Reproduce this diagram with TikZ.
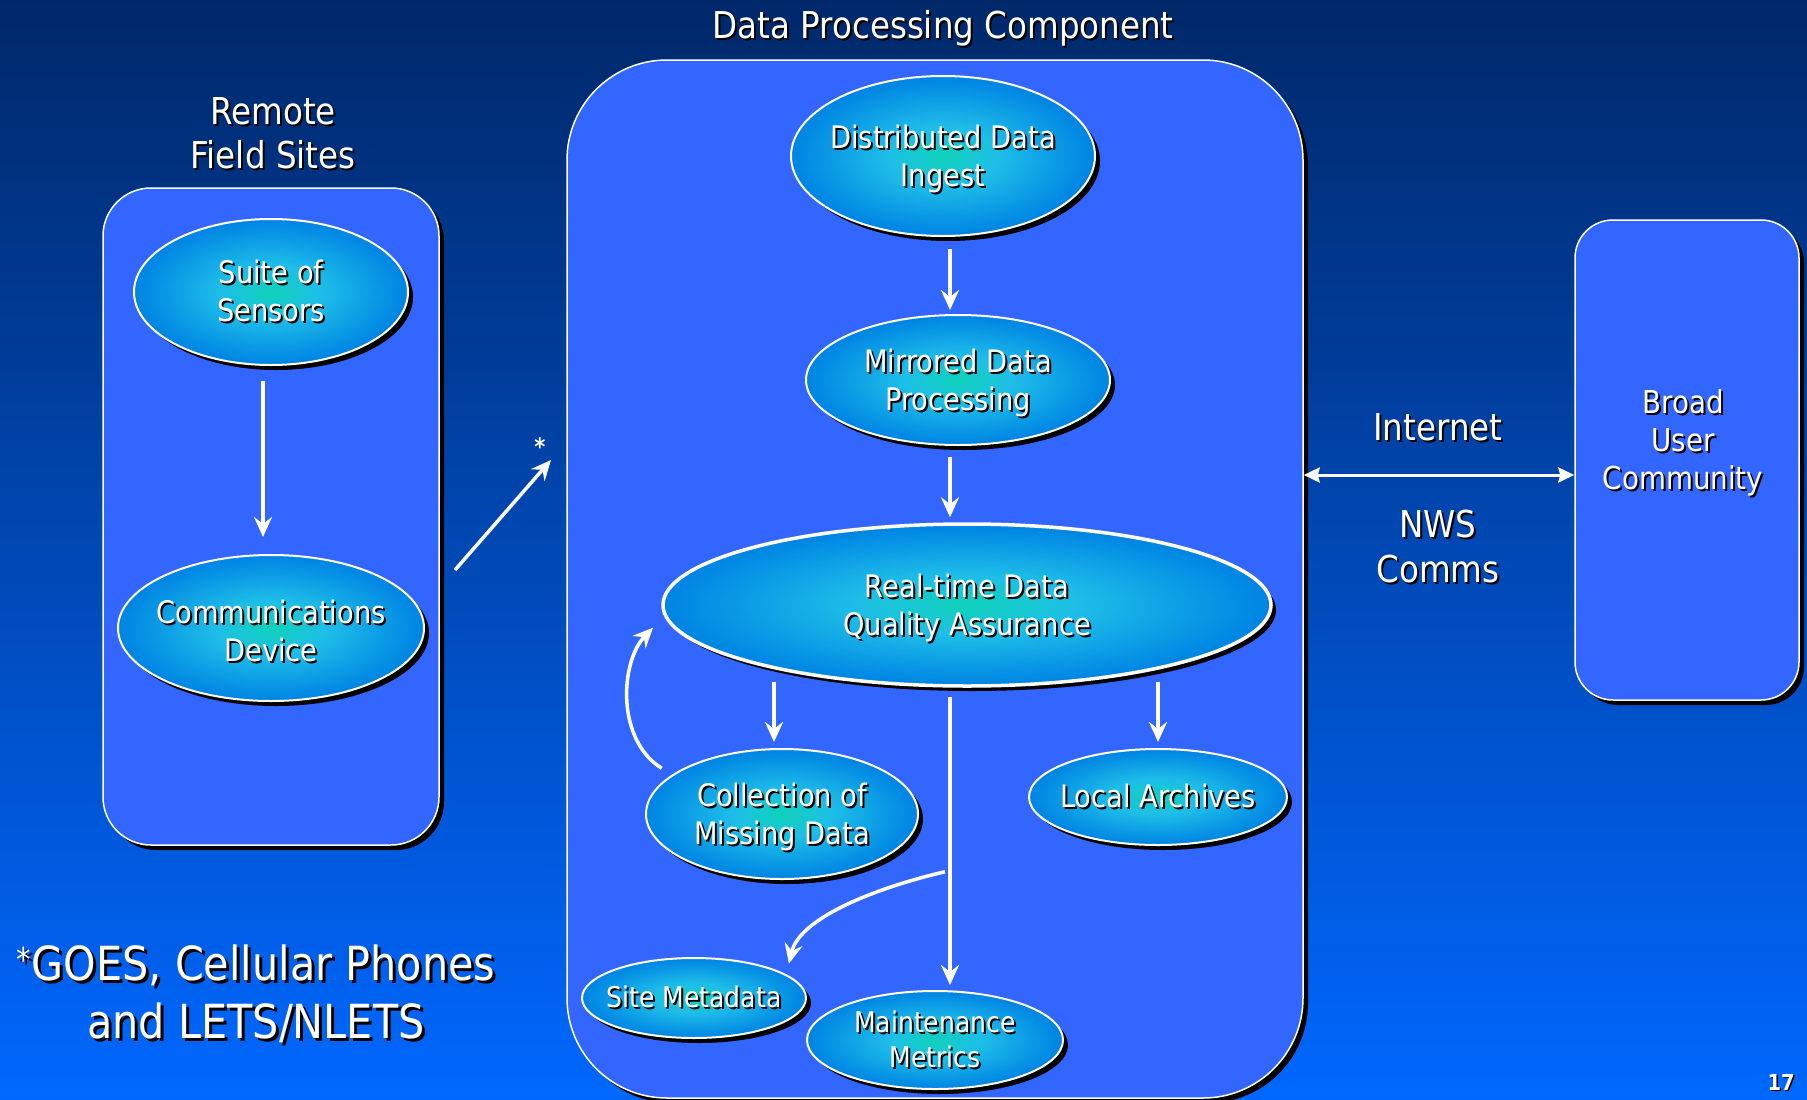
\documentclass[tikz,border=0pt]{standalone}
\usepackage{fontspec}
\setmainfont{DejaVu Sans}[FakeStretch=0.88]
\usetikzlibrary{shapes.geometric,shadows,arrows.meta,calc}

\definecolor{bgtop}{RGB}{0,40,105}
\definecolor{bgbot}{RGB}{0,104,255}
\definecolor{boxblue}{RGB}{51,102,255}
\definecolor{ecenter}{RGB}{15,210,185}
\definecolor{emid}{RGB}{30,190,232}
\definecolor{eout}{RGB}{0,135,228}
\definecolor{eedge}{RGB}{0,78,195}

\pgfdeclareradialshading{ellshade}{\pgfpoint{0bp}{0bp}}{color(0bp)=(ecenter); color(9bp)=(emid); color(24bp)=(eout); color(42bp)=(eedge); color(50bp)=(eedge)}

\newcommand{\shd}[2][2pt]{\leavevmode\rlap{\kern#1\raisebox{-#1}{\color{black}#2}}#2}
\newcommand{\dn}{\rule{0pt}{32pt}}
\newcommand{\fsA}{\fontsize{31pt}{38pt}\selectfont}
\newcommand{\fsB}{\fontsize{28.5pt}{35pt}\selectfont}
\newcommand{\fsT}{\fontsize{37pt}{44pt}\selectfont}
\newcommand{\fsI}{\fontsize{37pt}{45pt}\selectfont}
\newcommand{\fsU}{\fontsize{31.5pt}{38pt}\selectfont}
\newcommand{\fsF}{\fontsize{47pt}{58pt}\selectfont}

\tikzset{
  ellnode/.style={ellipse, draw=white, line width=2pt, shading=ellshade, text=white,
    inner sep=-40pt, align=center, font=\fsA,
    drop shadow={shadow xshift=5pt, shadow yshift=-5pt, fill=black, opacity=1}},
  panel/.style={rectangle, rounded corners=#1, draw=white, line width=1.5pt, fill=boxblue,
    drop shadow={shadow xshift=5pt, shadow yshift=-5pt, fill=black, opacity=1}},
  arr/.style={draw=white, line width=3.5pt, -{Stealth[length=20pt,width=18pt,inset=7pt]}},
  darr/.style={draw=white, line width=3pt, {Stealth[length=16pt,width=15pt,inset=2pt]}-{Stealth[length=16pt,width=15pt,inset=2pt]}},
  lbl/.style={text=white, align=center, inner sep=0pt}
}

\begin{document}
\begin{tikzpicture}[x=1pt,y=-1pt]
\useasboundingbox (0,0) rectangle (1807,1100);
\fill[top color=bgtop,bottom color=bgbot] (0,0) rectangle (1807,1100);

% panels
\node[panel=48pt, minimum width=336pt, minimum height=657pt] (lbox) at (271,516.5) {};
\node[panel=100pt, minimum width=736pt, minimum height=1038pt] (cbox) at (935,579) {};
\node[panel=38pt, minimum width=224pt, minimum height=480pt] (rbox) at (1687,460) {};

% labels
\node[lbl, font=\fsT] (title) at (943,29) {\shd{Data Processing Component}};
\node[lbl, font=\fsT] (remote) at (273,134) {\shd{Remote}\\\shd{Field Sites}};
\node[lbl, font=\fsI] (inet) at (1438,428) {\shd{Internet}};
\node[lbl, font=\fsI] (nws) at (1438,548) {\shd{NWS}\\\shd{Comms}};
\node[lbl, font=\fsU] (buc) at (1683,444) {\shd{Broad}\\\shd{User}\\\shd{Community}};
\node[lbl, font=\fsF] (foot) at (256,995) {\shd[3pt]{\textsuperscript{*}GOES, Cellular Phones}\\\shd[3pt]{and LETS/NLETS}};
\node[lbl, font=\bfseries\fontsize{22pt}{24pt}\selectfont] (pnum) at (1781,1083) {\shd[1.5pt]{17}};
\node[lbl, font=\bfseries\fontsize{24pt}{24pt}\selectfont] (star) at (540,447) {*};

% ellipses
\node[ellnode, minimum width=274pt, minimum height=146pt] (suite) at (271,292) {\shd{Suite of}\\\shd{Sensors}};
\node[ellnode, minimum width=306pt, minimum height=146pt] (comm) at (271,628) {\dn\shd{Communications}\\\shd{Device}};
\node[ellnode, minimum width=304pt, minimum height=160pt] (ingest) at (943,156) {\dn\shd{Distributed Data}\\\shd{Ingest}};
\node[ellnode, minimum width=304pt, minimum height=130pt] (mirr) at (958,380) {\dn\shd{Mirrored Data}\\\shd{Processing}};
\node[ellnode, line width=3.5pt, minimum width=608pt, minimum height=162pt] (rt) at (967,605) {\dn\shd{Real-time Data}\\\shd{Quality Assurance}};
\node[ellnode, minimum width=272pt, minimum height=130pt] (coll) at (782,814) {\dn\shd{Collection of}\\\shd{Missing Data}};
\node[ellnode, minimum width=258pt, minimum height=96pt] (la) at (1158,797) {\shd{Local Archives}};
\node[ellnode, minimum width=224pt, minimum height=80pt, font=\fsB] (site) at (694,998) {\shd{Site Metadata}};
\node[ellnode, minimum width=256pt, minimum height=98pt, font=\fsB] (mm) at (935,1040) {\shd{Maintenance}\\\shd{Metrics}};

% connectors
\draw[arr, shorten <=15pt, shorten >=17pt] ([xshift=-8pt]suite.south) -- ([xshift=-8pt]comm.north);
\coordinate (dgs) at (455,570);
\coordinate (dge) at (551,460);
\draw[arr] (dgs) -- (dge);
\draw[arr, shorten <=12pt, shorten >=4pt] ([xshift=7pt]ingest.south) -- ([xshift=-8pt]mirr.north);
\draw[arr, shorten <=11pt, shorten >=5pt] ([xshift=-8pt]mirr.south) -- ([xshift=-17pt]rt.north);
\draw[arr] ($(rt.south -| coll.north)+(-8,-6)$) -- ($(coll.north)+(-8,-6)$);
\draw[arr] ($(rt.south -| la.north)+(0,-6)$) -- ($(la.north)+(0,-6)$);
\draw[arr] ($(rt.south)+(-17,9)$) -- ($(mm.north -| rt.south)+(-17,-5)$);
\coordinate (br) at ($(rt.south)+(-22,184)$);
\draw[arr] (br) .. controls ($(br)+(-65,15)$) and ($(br)+(-145,45)$) .. ($(site.15)+(4,-10)$);
\draw[arr] ($(coll.160)+(-11,-6)$) .. controls (616,740) and (620,662) .. ($(rt.184)+(-18,2)$);
\coordinate (ia) at ($(rbox.west)+(0,15)$);
\draw[darr] (cbox.east |- ia) -- (ia);
\end{tikzpicture}
\end{document}
